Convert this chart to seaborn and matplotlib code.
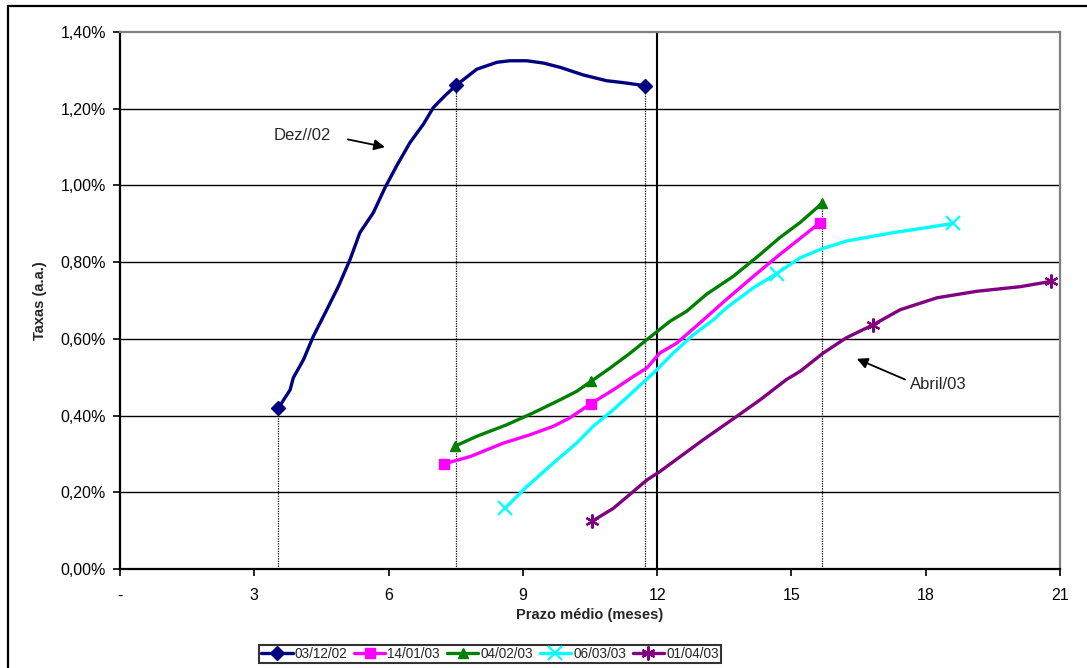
import pandas as pd
import matplotlib.pyplot as plt
import seaborn as sns
from matplotlib.lines import Line2D
from matplotlib.patches import Rectangle

# Curve data (prazo médio in months, taxa in % a.a.)
x_dez = [3.54, 3.80, 3.87, 4.10, 4.32, 4.62, 4.88, 5.14, 5.36, 5.66, 5.92, 6.18, 6.48, 6.78,
         7.00, 7.26, 7.51, 7.97, 8.42, 8.71, 9.09, 9.46, 9.83, 10.35, 10.87, 11.24, 11.73]
y_dez = [0.420, 0.467, 0.498, 0.546, 0.607, 0.676, 0.737, 0.807, 0.877, 0.929, 0.994, 1.051, 1.112, 1.160,
         1.203, 1.234, 1.261, 1.303, 1.321, 1.325, 1.325, 1.319, 1.308, 1.288, 1.273, 1.268, 1.260]
mk_dez = [0, 16, 26]

x_jan = [7.24, 7.82, 8.56, 9.16, 9.68, 10.05, 10.52, 11.02, 11.47, 11.77, 12.06, 12.44, 12.96,
         13.55, 14.15, 14.74, 15.64]
y_jan = [0.274, 0.293, 0.328, 0.350, 0.372, 0.394, 0.431, 0.467, 0.502, 0.524, 0.563, 0.589, 0.642,
         0.703, 0.763, 0.820, 0.903]
mk_jan = [0, 6, 16]

x_fev = [7.48, 7.97, 8.64, 9.23, 9.83, 10.20, 10.52, 10.95, 11.40, 11.77, 12.29, 12.66, 13.10,
         13.70, 14.30, 14.74, 15.19, 15.68]
y_fev = [0.320, 0.346, 0.376, 0.407, 0.441, 0.463, 0.489, 0.524, 0.563, 0.598, 0.646, 0.672, 0.716,
         0.763, 0.820, 0.864, 0.903, 0.953]
mk_fev = [0, 6, 17]

x_mar = [8.60, 9.09, 9.68, 10.20, 10.57, 11.02, 11.47, 11.92, 12.36, 12.81, 13.26, 13.55, 14.15,
         14.67, 15.19, 15.64, 16.23, 17.28, 18.02, 18.62]
y_mar = [0.158, 0.215, 0.276, 0.328, 0.372, 0.415, 0.463, 0.511, 0.563, 0.611, 0.650, 0.681, 0.733,
         0.770, 0.811, 0.833, 0.855, 0.877, 0.890, 0.901]
mk_mar = [0, 13, 19]

x_abr = [10.54, 11.02, 11.77, 12.06, 13.03, 13.78, 14.30, 14.89, 15.19, 15.71, 16.23, 16.83,
         17.43, 18.25, 19.14, 20.11, 20.81]
y_abr = [0.124, 0.158, 0.232, 0.254, 0.337, 0.398, 0.441, 0.494, 0.515, 0.563, 0.603, 0.637,
         0.676, 0.707, 0.724, 0.736, 0.750]
mk_abr = [0, 11, 16]

labels = ["03/12/02", "14/01/03", "04/02/03", "06/03/03", "01/04/03"]
colors = ["#000080", "#FF00FF", "#008000", "#00FFFF", "#800080"]
markers = ["D", "s", "^", "x", (6, 2, 0)]

# dotted guide lines (x, top y)
guide_x = [3.54, 7.51, 11.73, 15.68]
guide_top = [0.420, 1.261, 1.260, 0.953]

xticks = [0, 3, 6, 9, 12, 15, 18, 21]
xtick_labels = ["-", "3", "6", "9", "12", "15", "18", "21"]
yticks = [0.0, 0.2, 0.4, 0.6, 0.8, 1.0, 1.2, 1.4]

sns.set_style("white")
plt.rcParams["font.family"] = ["Liberation Sans", "DejaVu Sans"]

fig = plt.figure(figsize=(10.87, 6.68), dpi=100)
ax = fig.add_axes([120 / 1087, 1 - 569 / 668, 940 / 1087, 537 / 668])

series = [(x_dez, y_dez, mk_dez), (x_jan, y_jan, mk_jan), (x_fev, y_fev, mk_fev),
          (x_mar, y_mar, mk_mar), (x_abr, y_abr, mk_abr)]

# grid
for v in yticks[:-1]:
    ax.axhline(v, color="black", lw=1.0, zorder=1)
ax.axvline(12, color="black", lw=1.5, zorder=1)
ax.vlines(guide_x, 0, guide_top, colors="black", linestyles=(0, (1, 1)), lw=0.9, zorder=1)

handles = []
for (xs, ys, mk), lab, c, m in zip(series, labels, colors, markers):
    df = pd.DataFrame({"prazo": xs, "taxa": ys})
    mew = 1.6 if m in ("x", (6, 2, 0)) else 1.0
    ms = 10 if m in ("x", (6, 2, 0)) else 7.5
    sns.lineplot(data=df, x="prazo", y="taxa", ax=ax, color=c, lw=2.4, sort=False,
                 marker=m, markevery=mk, markersize=ms, markeredgewidth=mew,
                 markeredgecolor=c, markerfacecolor=c, zorder=3)
    handles.append(Line2D([], [], color=c, lw=2.4, marker=m, markersize=ms,
                          markeredgewidth=mew, markeredgecolor=c, markerfacecolor=c))

ax.set_xlim(0, 21)
ax.set_ylim(0, 1.4)
ax.set_xticks(xticks)
ax.set_xticklabels(xtick_labels)
ax.set_yticks(yticks)
ax.set_yticklabels([f"{v:.2f}%".replace(".", ",") for v in yticks])
ax.tick_params(axis="both", direction="out", length=5, width=1.2, labelsize=11.5,
               colors="black", pad=5, bottom=True, left=True)
ax.tick_params(axis="x", pad=9)

for s in ["left", "bottom"]:
    ax.spines[s].set_color("black")
    ax.spines[s].set_linewidth(1.6)
for s in ["top", "right"]:
    ax.spines[s].set_color("#808080")
    ax.spines[s].set_linewidth(1.6)

ax.set_xlabel("Prazo médio (meses)", fontsize=10.5, fontweight="bold", labelpad=3)
ax.set_ylabel("Taxas (a.a.)", fontsize=10.5, fontweight="bold", labelpad=10)

# annotations
ax.text(3.44, 1.131, "Dez//02", fontsize=12, va="center", ha="left")
ax.annotate("", xy=(5.92, 1.10), xytext=(5.09, 1.12),
            arrowprops=dict(arrowstyle="-|>", color="black", lw=1.3, mutation_scale=16,
                            shrinkA=0, shrinkB=0))
ax.text(17.65, 0.48, "Abril/03", fontsize=12, va="center", ha="left")
ax.annotate("", xy=(16.46, 0.548), xytext=(17.54, 0.494),
            arrowprops=dict(arrowstyle="-|>", color="black", lw=1.3, mutation_scale=16,
                            shrinkA=0, shrinkB=0))

leg = fig.legend(handles, labels, loc="center", bbox_to_anchor=(490 / 1087, 1 - 654 / 668),
                 ncol=5, frameon=True, fancybox=False, edgecolor="black",
                 handlelength=2.3, handletextpad=0.15, columnspacing=0.5, borderpad=0.15,
                 borderaxespad=0, prop={"family": ["Liberation Sans"], "size": 9.8})
leg.get_frame().set_linewidth(1.5)

fig.patches.append(Rectangle((8 / 1087, -0.1), 1.2, 1.1 - 6 / 668, transform=fig.transFigure,
                             fill=False, edgecolor="black", lw=1.6, zorder=0))

fig.savefig("out.png", dpi=100)
